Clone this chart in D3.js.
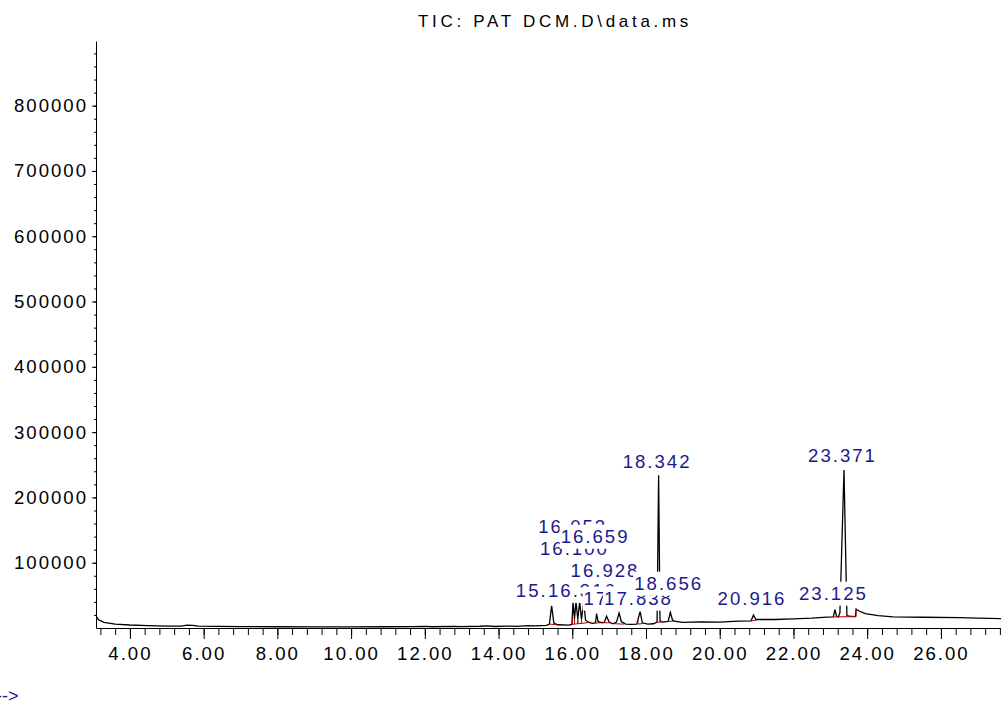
<!DOCTYPE html>
<html>
<head>
<meta charset="UTF-8">
<style>
body { margin: 0; background: #fff; }
text { font-family: "Liberation Sans", Arial, sans-serif; }
</style>
</head>
<body>
<svg width="1001" height="706"></svg>
<script src="https://cdn.jsdelivr.net/npm/d3@7/dist/d3.min.js"></script>
<script>

// TIC trace (minutes, abundance)
var rt = [3.08, 3.15, 3.30, 3.60, 4.00, 4.50, 5.00, 5.40, 5.55, 5.70, 5.85, 6.40, 7.00, 8.00, 9.00,
  10.00, 11.00, 11.70, 12.00, 12.20, 12.80, 13.00, 13.50, 13.70, 13.90, 14.20, 14.50, 14.80, 15.00,
  15.30, 15.38, 15.44, 15.50, 15.60, 15.90, 15.99, 16.02, 16.06, 16.10, 16.15, 16.20, 16.25, 16.31,
  16.36, 16.45, 16.55, 16.63, 16.66, 16.70, 16.80, 16.87, 16.93, 17.00, 17.10, 17.20, 17.27, 17.33,
  17.45, 17.60, 17.75, 17.84, 17.90, 18.05, 18.20, 18.30, 18.342, 18.38, 18.45, 18.60, 18.66, 18.72,
  18.80, 19.00, 19.50, 20.00, 20.50, 20.85, 20.916, 20.98, 21.20, 21.50, 22.00, 22.50, 22.90, 23.08,
  23.125, 23.17, 23.22, 23.26, 23.371, 23.45, 23.52, 23.68, 23.70, 23.78, 23.95, 24.30, 24.70, 25.50,
  26.50, 27.00, 27.63];
var tic = [18500, 12500, 8500, 6000, 4600, 3500, 3000, 2900, 4300, 4000, 2800, 2500, 2200, 1900, 1800,
  1800, 1900, 2100, 2600, 1900, 2500, 2000, 2700, 3400, 2300, 3000, 2600, 3500, 3200,
  4000, 6000, 34000, 7500, 5000, 4500, 5500, 40000, 14000, 40000, 14000, 40000, 13000, 40000,
  12000, 8500, 7000, 8000, 22000, 10000, 8000, 9000, 18000, 9000, 6500, 9000, 23000, 10000,
  6000, 5500, 6000, 25000, 8000, 6000, 6500, 9000, 234000, 11000, 9000, 10000, 24000, 12000,
  10000, 8500, 9500, 9000, 10500, 11000, 20000, 13000, 13000, 13000, 14000, 15000, 16500, 17000,
  28000, 18000, 17000, 23000, 242000, 19000, 18000, 17500, 29000, 26000, 22000, 19000, 17000, 16500,
  16000, 15000, 14500];

var xTicks = [4, 6, 8, 10, 12, 14, 16, 18, 20, 22, 24, 26];
var yTicks = [100000, 200000, 300000, 400000, 500000, 600000, 700000, 800000];

// peak labels, in the order they are drawn (later ones cover earlier ones)
var peakText = ["16.053", "16.100", "15.443", "16.316", "17.282", "17.838", "16.928", "18.656",
  "16.659", "18.342", "20.916", "23.125", "23.371"];
var peakRT = [16.053, 16.100, 15.443, 16.316, 17.282, 17.838, 16.928, 18.656,
  16.659, 18.342, 20.916, 23.125, 23.371];
var peakLabelAt = [146000, 112000, 48000, 48000, 35700, 35700, 78500, 58700,
  130600, 245500, 35000, 43400, 254700];

// integration baselines (start, end, abundance at start, at end)
var baseStart = [15.38, 16.00, 16.06, 16.15, 16.25, 16.60, 16.85, 17.15, 17.78, 18.28, 18.58, 20.85, 23.08];
var baseEnd = [15.58, 16.06, 16.15, 16.25, 16.45, 16.75, 17.05, 17.40, 17.95, 18.42, 18.76, 21.00, 23.70];
var baseFrom = [6000, 5500, 6000, 6500, 7000, 7500, 8000, 6500, 6000, 9000, 10000, 11000, 17000];
var baseTo = [5000, 6000, 6500, 7000, 8500, 8000, 8000, 6000, 7000, 9000, 10500, 12000, 17500];

var svg = d3.select("svg");

var x = d3.scaleLinear().domain([3.08, 27.63]).range([96, 1001]);
var y = d3.scaleLinear().domain([0, 899000]).range([628, 41]);

var tickFont = function(sel) {
  sel.selectAll("text")
    .style("font-family", "'Liberation Sans', Arial, sans-serif")
    .style("font-size", "18.6px")
    .style("letter-spacing", "2px")
    .attr("fill", "#000");
};

// title
svg.append("text")
  .attr("x", 555)
  .attr("y", 27)
  .attr("text-anchor", "middle")
  .style("font-size", "17px")
  .style("letter-spacing", "3.7px")
  .text("TIC: PAT DCM.D\\data.ms");

// minor ticks
svg.append("g")
  .attr("transform", "translate(0,628)")
  .call(d3.axisBottom(x).tickValues(d3.range(0, 62).map(function(i) { return 3.2 + i * 0.4; }))
    .tickSize(7).tickFormat(""))
  .call(function(g) { g.select(".domain").remove(); });

svg.append("g")
  .attr("transform", "translate(96,0)")
  .call(d3.axisLeft(y).tickValues(d3.range(1, 45).map(function(i) { return i * 20000; }))
    .tickSize(2).tickFormat(""))
  .call(function(g) { g.select(".domain").remove(); });

// major axes
svg.append("g")
  .attr("transform", "translate(0,628)")
  .call(d3.axisBottom(x).tickValues(xTicks).tickFormat(d3.format(".2f"))
    .tickSize(11).tickSizeOuter(0).tickPadding(8))
  .call(tickFont);

svg.append("g")
  .attr("transform", "translate(96,0)")
  .call(d3.axisLeft(y).tickValues(yTicks).tickFormat(d3.format("d"))
    .tickSize(4).tickSizeOuter(0).tickPadding(4))
  .call(tickFont);

svg.append("clipPath").attr("id", "plot")
  .append("rect").attr("x", 96).attr("y", 41).attr("width", 905).attr("height", 587);

// chromatogram
var line = d3.line()
  .x(function(d, i) { return x(rt[i]); })
  .y(function(d) { return y(d); });

svg.append("path")
  .datum(tic)
  .attr("clip-path", "url(#plot)")
  .attr("fill", "none")
  .attr("stroke", "#000")
  .attr("stroke-width", 1.3)
  .attr("d", line);

// integration baselines with end ticks up to the trace
var bisect = d3.bisector(function(d) { return d; }).left;
function signalAt(t) {
  var i = Math.max(1, Math.min(rt.length - 1, bisect(rt, t)));
  var k = (t - rt[i - 1]) / (rt[i] - rt[i - 1]);
  return tic[i - 1] + k * (tic[i] - tic[i - 1]);
}

var red = svg.append("g").attr("stroke", "#b40000").attr("stroke-width", 1).attr("fill", "none");
baseStart.forEach(function(t0, i) {
  var t1 = baseEnd[i];
  red.append("line")
    .attr("x1", x(t0)).attr("x2", x(t1))
    .attr("y1", y(baseFrom[i])).attr("y2", y(baseTo[i]));
  red.append("line")
    .attr("x1", x(t0)).attr("x2", x(t0))
    .attr("y1", y(baseFrom[i])).attr("y2", y(Math.max(baseFrom[i], signalAt(t0))));
  red.append("line")
    .attr("x1", x(t1)).attr("x2", x(t1))
    .attr("y1", y(baseTo[i])).attr("y2", y(Math.max(baseTo[i], signalAt(t1))));
});

// peak labels, each on a white box
var labels = svg.append("g");
peakText.forEach(function(t, i) {
  var g = labels.append("g");
  var txt = g.append("text")
    .attr("x", x(peakRT[i]))
    .attr("y", y(peakLabelAt[i]))
    .attr("dx", -1.5)
    .attr("text-anchor", "middle")
    .attr("fill", "#1a1a8e")
    .style("font-size", "18.6px")
    .style("letter-spacing", "2px")
    .text(t);
  var b = txt.node().getBBox();
  g.insert("rect", "text")
    .attr("x", b.x - 1)
    .attr("y", b.y - 1)
    .attr("width", b.width + 2)
    .attr("height", b.height + 3)
    .attr("fill", "#fff");
});

svg.append("text")
  .attr("x", -4)
  .attr("y", 702)
  .attr("fill", "#1a1a8e")
  .style("font-size", "18px")
  .text("-->");

</script>
</body>
</html>
